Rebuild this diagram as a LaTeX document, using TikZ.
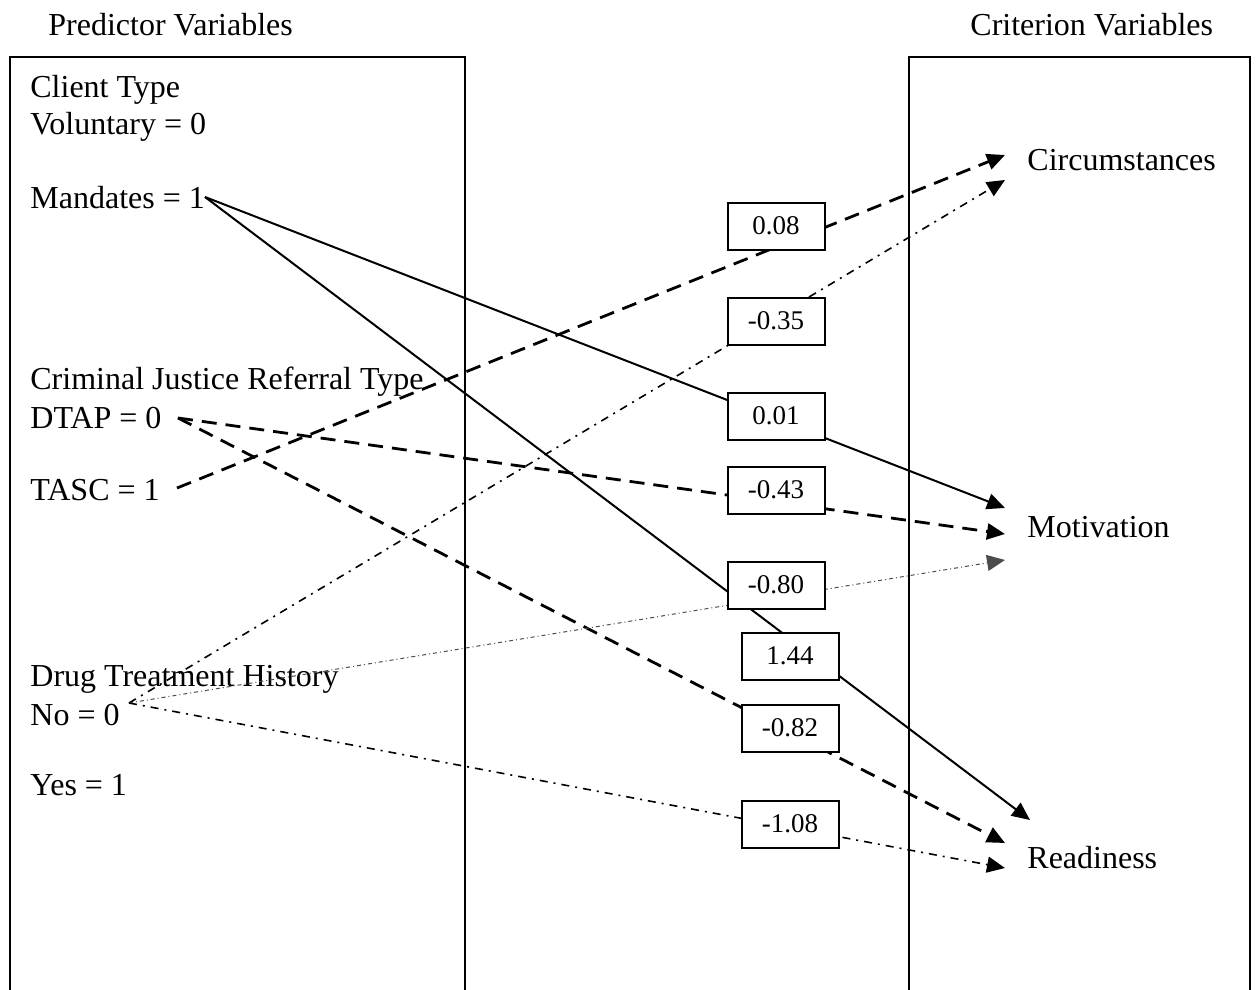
\documentclass[tikz,border=0pt]{standalone}
\usepackage{fontspec}
\setmainfont{Liberation Serif}
\usetikzlibrary{arrows.meta}
\tikzset{>={Triangle[length=9pt,width=8pt]}}
\tikzset{
  vartext/.style={anchor=base west,inner sep=0pt,font=\fontsize{16}{19}\selectfont},
  valbox/.style={draw,line width=1pt,fill=white,minimum width=48.5pt,minimum height=23.5pt,
    inner sep=0pt,font=\fontsize{13.5}{15}\selectfont},
  solidpath/.style={->,line width=1pt},
  dashpath/.style={->,line width=1.4pt,dash pattern=on 7.5pt off 4.5pt},
  dotdashpath/.style={->,line width=0.8pt,dash pattern=on 4pt off 3pt on 1pt off 3pt},
  finepath/.style={->,line width=0.5pt,draw=black!70,dash pattern=on 2pt off 1.5pt on 0.5pt off 1.5pt},
}

\begin{document}
\begin{tikzpicture}[x=0.5pt,y=-0.5pt]
    \useasboundingbox (0,0) rectangle (1259,990);
    % the two frames
    \draw[line width=1pt] (10,990) -- (10,57) -- (465,57) -- (465,990);
    \draw[line width=1pt] (909,990) -- (909,57) -- (1250,57) -- (1250,990);
    \node[vartext] (pred) at (48,36) {Predictor Variables};
    \node[vartext] (crit) at (970,36) {Criterion Variables};
    % predictors
    \node[vartext] (ctype) at (30,98) {Client Type};
    \node[vartext] (volun) at (30,134) {Voluntary = 0};
    \node[vartext] (mandt) at (30,208) {Mandates = 1};
    \node[vartext] (cjref) at (30,389) {Criminal Justice Referral Type};
    \node[vartext] (dtap) at (30,428) {DTAP = 0};
    \node[vartext] (tasc) at (30,500) {TASC = 1};
    \node[vartext] (drug) at (30,686) {Drug Treatment History};
    \node[vartext] (dno) at (30,725) {No = 0};
    \node[vartext] (dyes) at (30,795) {Yes = 1};
    % criteria
    \node[vartext] (circ) at (1027,170) {Circumstances};
    \node[vartext] (motiv) at (1027,537) {Motivation};
    \node[vartext] (ready) at (1027,868) {Readiness};
    % line ends
    \coordinate (mand) at (205,197);
    \coordinate (dta) at (178,418);
    \coordinate (tas) at (177,488);
    \coordinate (dn) at (129,703);
    \coordinate (circ1) at (1005,155);
    \coordinate (circ2) at (1005,180);
    \coordinate (mot1) at (1005,508);
    \coordinate (mot2) at (1005,534);
    \coordinate (mot3) at (1005,560);
    \coordinate (rdy1) at (1030,820);
    \coordinate (rdy2) at (1005,843);
    \coordinate (rdy3) at (1005,868);
    % paths
    \draw[solidpath] (mand) -- (mot1);
    \draw[solidpath] (mand) -- (rdy1);
    \draw[dashpath] (tas) -- (circ1);
    \draw[dashpath] (dta) -- (mot2);
    \draw[dashpath] (dta) -- (rdy2);
    \draw[dotdashpath] (dn) -- (circ2);
    \draw[finepath] (dn) -- (mot3);
    \draw[dotdashpath] (dn) -- (rdy3);
    % path coefficients
    \foreach \name/\x/\y/\val in {v008/776/226/0.08, v035/776/321/-0.35, v001/776/416/0.01,
        v043/776/490/-0.43, v080/776/585/-0.80, v144/790/656/1.44,
        v082/790/728/-0.82, v108/790/824/-1.08}
      \node[valbox] (\name) at (\x,\y) {\val};
\end{tikzpicture}
\end{document}
